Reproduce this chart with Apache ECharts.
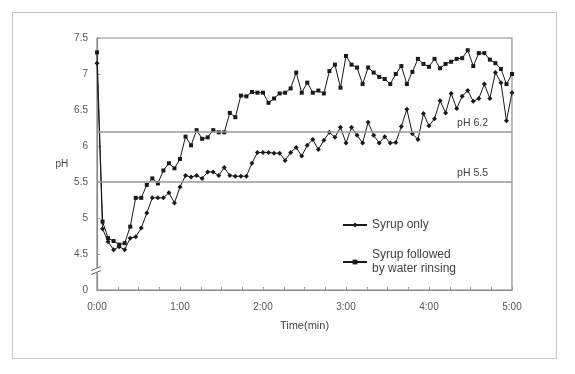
<!DOCTYPE html>
<html>
<head>
<meta charset="utf-8">
<script src="https://cdn.jsdelivr.net/npm/echarts@6/dist/echarts.min.js"></script>
<style>
html,body{margin:0;padding:0;background:#fff;}
#wrap{position:relative;width:575px;height:374px;}
#chart{position:absolute;left:0;top:0;width:575px;height:374px;}
#frame{position:absolute;left:12px;top:12px;width:543px;height:345px;border:1px solid #c8c8c8;pointer-events:none;}
</style>
</head>
<body>
<div id="wrap"><div id="chart"></div><div id="frame"></div></div>
<script>
// time in seconds
const times = [0,4,8,12,16,20,24,28,32,36,40,44,48,52,56,60,64,68,72,76,80,84,88,92,96,100,104,108,112,116,120,124,128,132,136,140,144,148,152,156,160,164,168,172,176,180,184,188,192,196,200,204,208,212,216,220,224,228,232,236,240,244,248,252,256,260,264,268,272,276,280,284,288,292,296,300];
// lower curve
const syrupOnly = [7.15,4.85,4.67,4.56,4.60,4.56,4.72,4.74,4.86,5.07,5.28,5.28,5.28,5.35,5.21,5.43,5.59,5.57,5.59,5.55,5.64,5.64,5.59,5.70,5.59,5.58,5.58,5.58,5.76,5.91,5.91,5.91,5.90,5.90,5.80,5.91,5.98,5.86,6.01,6.09,5.95,6.08,6.19,6.12,6.26,6.04,6.26,6.15,6.04,6.33,6.15,6.04,6.13,6.04,6.05,6.27,6.51,6.17,6.09,6.45,6.28,6.38,6.63,6.46,6.73,6.52,6.69,6.77,6.62,6.66,6.86,6.66,7.02,6.88,6.35,6.74];
// upper curve
const syrupRinse = [7.30,4.95,4.72,4.68,4.63,4.65,4.88,5.28,5.28,5.46,5.55,5.48,5.66,5.76,5.69,5.82,6.13,6.01,6.22,6.10,6.12,6.22,6.19,6.19,6.46,6.40,6.70,6.69,6.75,6.74,6.74,6.60,6.66,6.73,6.74,6.80,7.02,6.74,6.88,6.74,6.77,6.73,7.04,7.13,6.81,7.25,7.13,7.09,6.86,7.09,7.02,6.96,6.93,6.86,7.00,7.11,6.86,7.03,7.21,7.14,7.10,7.21,7.08,7.14,7.17,7.21,7.22,7.33,7.11,7.29,7.29,7.20,7.15,7.07,6.86,7.00];
const seriesNames = ['Syrup only', 'Syrup followed\nby water rinsing'];
const refLevels = [6.2, 5.5];
const refLabels = ['pH 6.2', 'pH 5.5'];
const yTickLabels = {4:'0',4.5:'4.5',5:'5',5.5:'5.5',6:'6',6.5:'6.5',7:'7',7.5:'7.5'};
const xTickLabels = {0:'0:00',60:'1:00',120:'2:00',180:'3:00',240:'4:00',300:'5:00'};

const chart = echarts.init(document.getElementById('chart'), null, {renderer:'canvas'});
const font = 'Liberation Sans, Arial, sans-serif';
const lineCol = '#1a1a1a';

function mk(arr){ return times.map((t,i)=>[t, arr[i]]); }

const option = {
  animation:false,
  backgroundColor:'#fff',
  textStyle:{fontFamily:font},
  grid:{left:97, right:63, top:38, bottom:84, show:true, borderColor:'#8a8a8a', borderWidth:1.2},
  legend:{
    orient:'vertical', left:337, top:213, itemGap:16, itemWidth:24, itemHeight:6,
    textStyle:{fontSize:12, color:'#444', fontFamily:font, lineHeight:14},
    data:seriesNames
  },
  xAxis:{
    type:'value', min:0, max:300, interval:15,
    name:'Time(min)', nameLocation:'middle', nameGap:30,
    nameTextStyle:{fontSize:11, color:'#444'},
    axisLine:{lineStyle:{color:'#8a8a8a', width:1.2}},
    axisTick:{inside:true, length:3, lineStyle:{color:'#999'}},
    axisLabel:{fontSize:10, color:'#555', margin:12, formatter:v=> (xTickLabels[v]!==undefined? xTickLabels[v] : '')},
    splitLine:{show:false}
  },
  yAxis:{
    type:'value', min:4, max:7.5, interval:0.5,
    name:'pH', nameLocation:'middle', nameRotate:0, nameGap:27,
    nameTextStyle:{fontSize:10, color:'#444', padding:[12,0,0,0]},
    axisLine:{show:true, lineStyle:{color:'#8a8a8a', width:1.2}},
    axisTick:{show:true, inside:true, length:3, lineStyle:{color:'#999'}},
    axisLabel:{fontSize:10, color:'#555', margin:9, formatter:v=> (yTickLabels[v]!==undefined? yTickLabels[v] : '')},
    splitLine:{show:false}
  },
  series:[
    {
      name:seriesNames[0], type:'line', data:mk(syrupOnly),
      symbol:'diamond', symbolSize:5, showSymbol:true,
      lineStyle:{color:lineCol, width:1}, itemStyle:{color:lineCol},
      markLine:{
        silent:true, symbol:['none','none'],
        lineStyle:{color:'#9a9a9a', width:1.5, type:'solid'},
        label:{position:'insideEndTop', fontSize:10.5, color:'#444', distance:[24,3]},
        data: refLevels.map((v,i)=>({yAxis:v, label:{formatter:refLabels[i]}}))
      }
    },
    {
      name:seriesNames[1], type:'line', data:mk(syrupRinse),
      symbol:'rect', symbolSize:4, showSymbol:true,
      lineStyle:{color:lineCol, width:1}, itemStyle:{color:lineCol}
    }
  ]
};
chart.setOption(option);

// axis break mark on the y axis between 0 and 4.5
const bx = chart.convertToPixel({xAxisIndex:0}, 0);
const by = chart.convertToPixel({yAxisIndex:0}, 4.27);
chart.setOption({
  graphic:[
    {type:'rect', shape:{x:bx-5, y:by-3, width:10, height:5}, style:{fill:'#fff'}, z:100},
    {type:'line', shape:{x1:bx-6, y1:by, x2:bx+4, y2:by-4}, style:{stroke:'#666', lineWidth:1}, z:101},
    {type:'line', shape:{x1:bx-6, y1:by+4, x2:bx+4, y2:by}, style:{stroke:'#666', lineWidth:1}, z:101}
  ]
});
</script>
</body>
</html>
